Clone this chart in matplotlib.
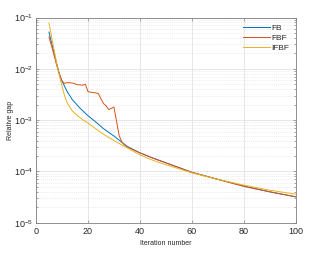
import matplotlib
matplotlib.use("Agg")
import matplotlib.pyplot as plt
from matplotlib.ticker import LogLocator, NullFormatter, MultipleLocator

# Iterations and relative gap values
fb_iter = [5, 6, 7, 8, 9, 10, 12, 14, 17, 20, 23, 26, 30, 35, 40, 45, 50, 55, 60, 70, 80, 90, 100]
fb_gap = [0.052, 0.032, 0.020, 0.0125, 0.0080, 0.0058, 0.0036, 0.0025, 0.0017, 0.00122,
          0.00092, 0.00068, 0.00049, 0.00031, 0.00023, 0.000182, 0.000147, 0.000119,
          9.6e-5, 7.0e-5, 5.2e-5, 4.0e-5, 3.2e-5]

fbf_iter = [5, 6, 7, 8, 9, 10, 11, 12, 14, 16, 18, 19, 20, 21, 23, 24, 25, 26, 27, 28,
            29, 30, 31, 32, 33, 34, 35, 40, 45, 50, 60, 70, 80, 90, 100]
fbf_gap = [0.042, 0.028, 0.018, 0.0115, 0.0078, 0.0058, 0.0052, 0.0054, 0.0053, 0.0049,
           0.0048, 0.0050, 0.0036, 0.0035, 0.0034, 0.0033, 0.0026, 0.0021, 0.0019, 0.0016,
           0.0017, 0.0018, 0.00095, 0.00050, 0.00038, 0.00033, 0.00030, 0.00023, 0.000182,
           0.000147, 9.6e-5, 7.0e-5, 5.1e-5, 4.0e-5, 3.2e-5]

ifbf_iter = [5, 6, 7, 8, 9, 10, 11, 12, 13, 14, 16, 18, 20, 23, 26, 30, 35, 40, 45, 50,
             60, 70, 80, 90, 100]
ifbf_gap = [0.078, 0.042, 0.023, 0.0125, 0.0074, 0.0046, 0.0030, 0.0022, 0.0018, 0.0015,
            0.00122, 0.00102, 0.00088, 0.00068, 0.00053, 0.00040, 0.00029, 0.00021,
            0.000165, 0.000135, 9.4e-5, 7.0e-5, 5.4e-5, 4.3e-5, 3.6e-5]

plt.rcParams['font.family'] = ['Liberation Sans', 'DejaVu Sans']

fig = plt.figure(figsize=(3.27, 2.54), dpi=100)
ax = fig.add_axes([0.110, 0.123, 0.795, 0.808])

ax.plot(fb_iter, fb_gap, color='#0072BD', lw=0.7, label='FB')
ax.plot(fbf_iter, fbf_gap, color='#D95319', lw=0.7, label='FBF')
ax.plot(ifbf_iter, ifbf_gap, color='#EDB120', lw=0.7, label='IFBF')

ax.set_yscale('log')
ax.set_xlim(0, 100)
ax.set_ylim(1e-5, 1e-1)
ax.xaxis.set_major_locator(MultipleLocator(20))
ax.yaxis.set_major_locator(LogLocator(base=10, numticks=10))
ax.yaxis.set_minor_locator(LogLocator(base=10, subs=range(2, 10), numticks=50))
ax.yaxis.set_minor_formatter(NullFormatter())

ax.grid(True, which='major', color='#e3e3e3', lw=0.6)
ax.grid(True, which='minor', axis='y', color='#e6e6e6', lw=0.5, ls=(0, (1.5, 1.5)))
ax.set_axisbelow(True)

for s in ax.spines.values():
    s.set_color('#808080')
    s.set_linewidth(0.6)
ax.tick_params(which='both', direction='in', top=True, right=True, colors='#808080',
               labelcolor='#262626', labelsize=6.5, width=0.5)
ax.tick_params(which='major', length=2.5)
ax.tick_params(which='minor', length=1.5)
ax.tick_params(axis='x', pad=3)
ax.tick_params(axis='y', pad=2)

ax.set_xlabel('Iteration number', fontsize=5, color='#262626', labelpad=3)
ax.set_ylabel('Relative gap', fontsize=5, color='#262626', labelpad=0)

leg = ax.legend(loc='upper right', frameon=False, fontsize=6, handlelength=3.2,
                handletextpad=0.2, labelspacing=0.25, borderaxespad=0.4)
for t in leg.get_texts():
    t.set_color('#262626')

plt.savefig('out.png', dpi=100)
